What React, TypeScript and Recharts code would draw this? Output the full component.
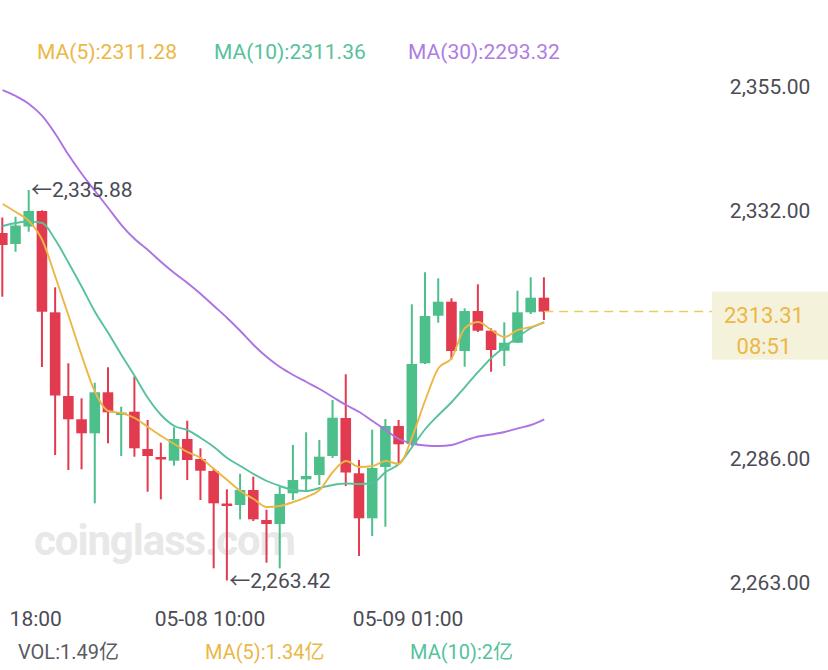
import { ComposedChart, Bar, Line, XAxis, YAxis, ReferenceLine, ReferenceDot } from 'recharts'

// hourly candles, ETH 1h
const times = [
  '05-07 18:00', '05-07 19:00', '05-07 20:00', '05-07 21:00', '05-07 22:00', '05-07 23:00',
  '05-08 00:00', '05-08 01:00', '05-08 02:00', '05-08 03:00', '05-08 04:00', '05-08 05:00',
  '05-08 06:00', '05-08 07:00', '05-08 08:00', '05-08 09:00', '05-08 10:00', '05-08 11:00',
  '05-08 12:00', '05-08 13:00', '05-08 14:00', '05-08 15:00', '05-08 16:00', '05-08 17:00',
  '05-08 18:00', '05-08 19:00', '05-08 20:00', '05-08 21:00', '05-08 22:00', '05-08 23:00',
  '05-09 00:00', '05-09 01:00', '05-09 02:00', '05-09 03:00', '05-09 04:00', '05-09 05:00',
  '05-09 06:00', '05-09 07:00', '05-09 08:00', '05-09 09:00', '05-09 10:00', '05-09 11:00',
]
// empty slots to the right of the last candle
const futureTimes = [
  '05-09 12:00', '05-09 13:00', '05-09 14:00', '05-09 15:00', '05-09 16:00', '05-09 17:00',
  '05-09 18:00', '05-09 19:00', '05-09 20:00', '05-09 21:00', '05-09 22:00', '05-09 23:00',
  '05-10 00:00',
]

const opens = [
  2327.9, 2325.86, 2329.1, 2331.98, 2313.18, 2297.65, 2293.33, 2290.73, 2298.34, 2294.13, 2294.74,
  2287.82, 2286.33, 2285.65, 2289.67, 2285.96, 2283.73, 2277.7, 2277.43, 2280.21, 2274.64, 2273.9,
  2279.6, 2282.19, 2282.99, 2286.52, 2293.57, 2283.31, 2274.96, 2284.48, 2292.09, 2288.74, 2303.72,
  2312.55, 2315.15, 2306.0, 2313.42, 2309.77, 2306.06, 2307.54, 2313.18, 2315.89,
]
const highs = [
  2330.77, 2330.92, 2335.88, 2332.1, 2317.82, 2303.72, 2297.22, 2300.12, 2302.98, 2295.67, 2301.27,
  2293.2, 2288.99, 2291.84, 2293.07, 2287.95, 2284.29, 2280.34, 2283.23, 2282.68, 2276.55, 2280.77,
  2288.56, 2290.92, 2289.49, 2296.91, 2301.68, 2285.78, 2291.4, 2293.38, 2293.2, 2314.67, 2320.61,
  2319.49, 2315.78, 2313.93, 2318.38, 2310.21, 2311.33, 2317.19, 2319.68, 2319.68,
]
const lows = [
  2316.08, 2324.43, 2328.14, 2303.03, 2286.7, 2283.92, 2284.05, 2277.74, 2288.87, 2286.52, 2286.39,
  2279.89, 2278.48, 2284.72, 2282.06, 2278.35, 2265.68, 2263.42, 2274.77, 2274.46, 2266.72, 2265.68,
  2278.35, 2280.21, 2281.14, 2286.15, 2280.95, 2267.96, 2271.67, 2273.4, 2285.16, 2288.37, 2303.59,
  2311.25, 2304.46, 2303.09, 2309.53, 2302.16, 2303.22, 2307.49, 2312.87, 2311.75,
]
const closes = [
  2325.67, 2329.29, 2331.98, 2313.29, 2297.74, 2293.33, 2290.73, 2298.34, 2294.63, 2294.59, 2287.95,
  2286.52, 2285.87, 2289.67, 2285.78, 2283.79, 2277.74, 2277.24, 2280.21, 2274.77, 2273.9, 2279.47,
  2282.06, 2282.81, 2286.39, 2293.62, 2283.46, 2274.96, 2284.29, 2292.09, 2288.69, 2303.59, 2312.5,
  2315.15, 2306.0, 2313.42, 2309.77, 2306.19, 2307.54, 2313.18, 2315.89, 2313.31,
]

const ma5 = [
  2333.28, 2331.79, 2330.12, 2326.6, 2319.73, 2312.5, 2305.07, 2298.39, 2294.87, 2294.5, 2293.57,
  2291.9, 2290.23, 2288.74, 2287.26, 2286.15, 2284.11, 2282.06, 2280.02, 2278.54, 2277.05, 2277.24,
  2277.98, 2278.91, 2280.21, 2283.55, 2285.59, 2284.48, 2284.66, 2285.59, 2285.03, 2290.04, 2296.91,
  2302.85, 2304.7, 2310.27, 2311.38, 2309.9, 2308.6, 2309.9, 2310.46, 2311.28,
]
const ma10 = [
  2329.2, 2329.75, 2330.03, 2329.75, 2326.6, 2322.33, 2317.88, 2313.24, 2309.34, 2305.26, 2301.36,
  2297.28, 2294.13, 2292.09, 2291.34, 2289.86, 2288.19, 2286.15, 2284.66, 2283.18, 2281.88, 2280.95,
  2280.21, 2280.02, 2280.58, 2281.14, 2281.42, 2281.32, 2281.51, 2283.55, 2285.03, 2288.19, 2291.53,
  2294.13, 2296.54, 2299.32, 2302.11, 2304.7, 2306.74, 2308.6, 2310.27, 2311.36,
]
const ma30 = [
  2354.43, 2353.32, 2351.84, 2349.61, 2346.27, 2342.37, 2338.85, 2335.69, 2332.54, 2329.38, 2326.78,
  2324.74, 2322.52, 2320.48, 2318.62, 2316.58, 2314.35, 2312.13, 2309.71, 2307.12, 2304.89, 2303.03,
  2301.55, 2300.25, 2298.95, 2297.47, 2295.98, 2294.68, 2293.01, 2291.34, 2289.67, 2288.84, 2288.47,
  2288.37, 2288.56, 2289.39, 2290.14, 2290.51, 2290.97, 2291.66, 2292.27, 2293.32,
]

const yTicks = [2355, 2332, 2286, 2263]
const tickTimes = ['05-07 18:00', '05-08 10:00', '05-09 01:00']
const tickTexts = ['18:00', '05-08 10:00', '05-09 01:00']

const lastPrice = 2313.31
const countdown = '08:51'
const highMark = { time: times[2], price: 2335.88 }
const lowMark = { time: times[17], price: 2263.42 }

const GREEN = '#4cbf8b'
const RED = '#e23a4e'
const GOLD = '#ebb745'
const TEAL = '#55c29c'
const PURPLE = '#ad72e3'
const GREY = '#4b4b55'

const rows = [
  ...times.map((t, i) => ({
    t,
    o: opens[i],
    h: highs[i],
    l: lows[i],
    c: closes[i],
    range: [lows[i], highs[i]],
    ma5: ma5[i],
    ma10: ma10[i],
    ma30: ma30[i],
  })),
  ...futureTimes.map((t) => ({ t })),
]

function Candle(props: any) {
  const { x, y, width, height, payload } = props
  if (!payload || payload.o == null) return null
  const { o, h, l, c } = payload
  const k = height / (h - l)
  const top = y + (h - Math.max(o, c)) * k
  const bot = y + (h - Math.min(o, c)) * k
  const color = c >= o ? GREEN : RED
  const cx = x + width / 2
  return (
    <g>
      <line x1={cx} x2={cx} y1={y} y2={y + height} stroke={color} strokeWidth={2} />
      <rect x={x} y={top} width={width} height={Math.max(bot - top, 1.5)} fill={color} />
    </g>
  )
}

function TimeTick(props: any) {
  const { x, y, payload } = props
  const idx = tickTimes.indexOf(payload.value)
  const first = idx === 0
  return (
    <text x={first ? x + 7 : x - 4} y={y} dy={15.5} textAnchor={first ? 'start' : 'middle'} fill={GREY} fontSize={21}>
      {tickTexts[idx]}
    </text>
  )
}

function PriceTag(props: any) {
  const vb = props.viewBox || {}
  const right = vb.x + vb.width
  const y = vb.y
  return (
    <g>
      <rect x={right - 4} y={y - 20} width={120} height={68} fill="#f5f2dc" />
      <text x={right + 48} y={y + 11} textAnchor="middle" fill={GOLD} fontSize={22}>
        {lastPrice.toFixed(2)}
      </text>
      <text x={right + 48} y={y + 42} textAnchor="middle" fill={GOLD} fontSize={22}>
        {countdown}
      </text>
    </g>
  )
}

const fmt = (v: number) => v.toLocaleString('en-US', { minimumFractionDigits: 2, maximumFractionDigits: 2 })

export default function App() {
  const font = 'Roboto, "Noto Sans CJK SC", sans-serif'
  return (
    <div style={{ position: 'absolute', left: 0, top: 0, width: 828, height: 670, overflow: 'hidden', background: '#fff', fontFamily: font }}>
      <div style={{ position: 'absolute', left: 34, top: 516, fontSize: 42, fontWeight: 700, color: '#e8e8e8', letterSpacing: -1.1 }}>
        coinglass.com
      </div>
      <div style={{ position: 'absolute', left: -3.9, top: 0 }}>
        <ComposedChart width={832} height={670} data={rows} margin={{ top: 60, right: 0, bottom: 40, left: 0 }}>
          <XAxis
            dataKey="t"
            ticks={tickTimes}
            interval={0}
            tick={<TimeTick />}
            tickLine={false}
            axisLine={false}
            tickSize={0}
            tickMargin={10}
            height={30}
          />
          <YAxis
            orientation="right"
            domain={[2259.8, 2360]}
            allowDataOverflow
            ticks={yTicks}
            interval={0}
            tickFormatter={fmt}
            tick={{ fill: GREY, fontSize: 21 }}
            tickLine={false}
            axisLine={false}
            tickSize={0}
            tickMargin={7.3}
            width={105.45}
          />
          <Line dataKey="ma30" type="monotone" stroke={PURPLE} strokeWidth={1.9} dot={false} activeDot={false} isAnimationActive={false} />
          <Bar dataKey="range" barSize={10.6} shape={<Candle />} isAnimationActive={false} />
          <Line dataKey="ma10" type="monotone" stroke={TEAL} strokeWidth={1.9} dot={false} activeDot={false} isAnimationActive={false} />
          <Line dataKey="ma5" type="monotone" stroke={GOLD} strokeWidth={1.9} dot={false} activeDot={false} isAnimationActive={false} />
          <ReferenceLine
            segment={[
              { x: times[times.length - 1], y: lastPrice },
              { x: futureTimes[futureTimes.length - 1], y: lastPrice },
            ]}
            stroke="#efc960"
            strokeWidth={1.5}
            strokeDasharray="9 6"
            label={<PriceTag />}
          />
          <ReferenceDot
            x={highMark.time}
            y={highMark.price}
            r={1}
            fill="none"
            stroke="none"
            label={{ value: '←' + fmt(highMark.price), position: 'right', offset: 1, fill: GREY, fontSize: 21 }}
          />
          <ReferenceDot
            x={lowMark.time}
            y={lowMark.price}
            r={1}
            fill="none"
            stroke="none"
            label={{ value: '←' + fmt(lowMark.price), position: 'right', offset: 1, fill: GREY, fontSize: 21 }}
          />
        </ComposedChart>
      </div>
      <div style={{ position: 'absolute', left: 37, top: 40, fontSize: 21, lineHeight: '24px', color: GOLD }}>MA(5):2311.28</div>
      <div style={{ position: 'absolute', left: 214, top: 40, fontSize: 21, lineHeight: '24px', color: TEAL }}>MA(10):2311.36</div>
      <div style={{ position: 'absolute', left: 408, top: 40, fontSize: 21, lineHeight: '24px', color: '#b07ce2' }}>MA(30):2293.32</div>
      <div style={{ position: 'absolute', left: 18, top: 640, fontSize: 20, lineHeight: '24px', color: '#5a5a62' }}>VOL:1.49亿</div>
      <div style={{ position: 'absolute', left: 205, top: 640, fontSize: 20, lineHeight: '24px', color: GOLD }}>MA(5):1.34亿</div>
      <div style={{ position: 'absolute', left: 410, top: 640, fontSize: 20, lineHeight: '24px', color: TEAL }}>MA(10):2亿</div>
    </div>
  )
}
